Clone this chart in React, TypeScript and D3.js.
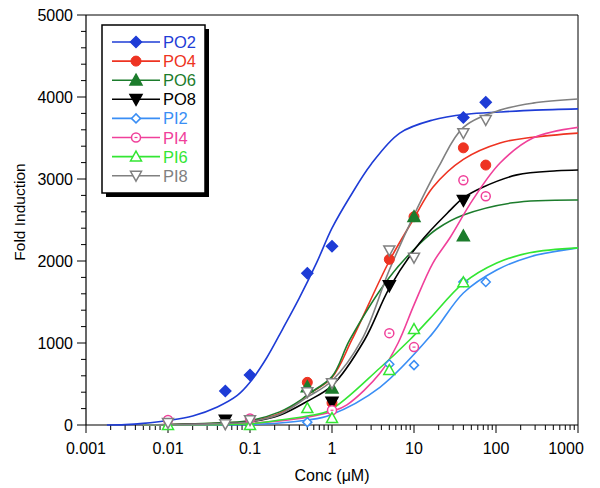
import React from "react";
import * as d3 from "d3";

// ---- data ----
const seriesNames = ["PO2", "PO4", "PO6", "PO8", "PI2", "PI4", "PI6", "PI8"];
const seriesColors = ["#1e3cd6", "#ee3322", "#1c7c2c", "#000000", "#3a8ef5", "#f0409a", "#33e633", "#808080"];
const seriesMarkers = ["diamondF", "circleF", "triUpF", "triDownF", "diamondO", "circleO", "triUpO", "triDownO"];

// measured points [conc, value]
const PO2_pts = [[0.05, 415], [0.1, 610], [0.5, 1850], [1, 2180], [40, 3750], [75, 3935]];
const PO4_pts = [[0.5, 520], [1, 270], [5, 2020], [10, 2540], [40, 3380], [75, 3170]];
const PO6_pts = [[0.5, 465], [1, 450], [10, 2540], [40, 2305]];
const PO8_pts = [[0.05, 60], [1, 280], [5, 1700], [40, 2740]];
const PI2_pts = [[0.5, 35], [5, 740], [10, 730], [40, 1745], [75, 1745]];
const PI4_pts = [[0.01, 60], [0.1, 80], [1, 180], [5, 1120], [10, 950], [40, 2985], [75, 2790]];
const PI6_pts = [[0.01, 0], [0.1, 0], [0.5, 205], [1, 85], [5, 670], [10, 1170], [40, 1740]];
const PI8_pts = [[0.01, 25], [0.05, 10], [0.1, 60], [0.5, 400], [1, 510], [5, 2130], [10, 2040], [40, 3560], [75, 3720]];

// fitted curves, traced [conc, value]
const PO2_fit = [[0.0018, 0], [0.003, 5], [0.005, 20], [0.01, 55], [0.02, 110], [0.04, 220], [0.07, 360], [0.1, 520], [0.16, 820], [0.25, 1170], [0.4, 1550], [0.65, 1980], [1, 2400], [1.65, 2780], [3, 3180], [6.7, 3560], [17, 3720], [44, 3790], [112, 3817], [300, 3840], [1000, 3855]];
const PO4_fit = [[0.005, 0], [0.01, 5], [0.05, 25], [0.1, 45], [0.23, 140], [0.41, 290], [0.5, 365], [1, 580], [1.75, 1040], [5, 2000], [10, 2520], [17, 2900], [40, 3240], [112, 3440], [282, 3510], [1000, 3560]];
const PO6_fit = [[0.005, 0], [0.01, 5], [0.05, 30], [0.1, 55], [0.23, 160], [0.41, 300], [0.5, 370], [1, 590], [1.65, 1040], [5, 1800], [12, 2220], [19, 2390], [40, 2560], [160, 2710], [1000, 2744]];
const PO8_fit = [[0.005, 0], [0.01, 3], [0.05, 20], [0.1, 40], [0.23, 120], [0.5, 290], [1, 480], [2.5, 1040], [5, 1670], [11.7, 2220], [27.7, 2620], [40, 2770], [69, 2900], [180, 3050], [553, 3100], [1000, 3110]];
const PI2_fit = [[0.005, 0], [0.01, 1], [0.1, 8], [0.23, 25], [0.5, 60], [0.94, 120], [3.84, 460], [16, 1090], [40, 1610], [102, 1890], [257, 2050], [1000, 2160]];
const PI4_fit = [[0.005, 0], [0.01, 2], [0.1, 20], [0.23, 50], [0.5, 95], [1, 165], [1.52, 245], [3.84, 630], [6.4, 1000], [10, 1465], [17, 1975], [27.7, 2290], [52, 2745], [112, 3195], [282, 3500], [1000, 3630]];
const PI6_fit = [[0.005, 0], [0.01, 2], [0.1, 15], [0.23, 60], [0.5, 110], [0.94, 180], [3.84, 695], [8.9, 1040], [15.7, 1300], [40, 1730], [102, 1975], [257, 2100], [1000, 2160]];
const PI8_fit = [[0.005, 0], [0.01, 3], [0.05, 20], [0.1, 40], [0.23, 130], [0.5, 340], [1, 540], [2.31, 1040], [5, 1890], [10, 2560], [20, 3150], [40, 3630], [112, 3840], [282, 3925], [1000, 3975]];

const seriesPoints = [PO2_pts, PO4_pts, PO6_pts, PO8_pts, PI2_pts, PI4_pts, PI6_pts, PI8_pts];
const seriesFits = [PO2_fit, PO4_fit, PO6_fit, PO8_fit, PI2_fit, PI4_fit, PI6_fit, PI8_fit];

const xTicks = [0.001, 0.01, 0.1, 1, 10, 100, 1000];
const xTickLabels = ["0.001", "0.01", "0.1", "1", "10", "100", "1000"];
const yTicks = [0, 1000, 2000, 3000, 4000, 5000];

const W = 600, H = 488;
const L = 86, R = 578, T = 15, B = 425;
const font = "Arial, 'Liberation Sans', sans-serif";

function Marker({ type, x, y, color }: { type: string; x: number; y: number; color: string }) {
  const filled = type.endsWith("F");
  const fill = filled ? color : "white";
  const sw = 1.5;
  if (type.startsWith("diamond")) {
    const s = filled ? 5.5 : 4.5;
    return <path d={`M${x},${y - s}L${x + s},${y}L${x},${y + s}L${x - s},${y}Z`} fill={fill} stroke={color} strokeWidth={sw} />;
  }
  if (type.startsWith("circle")) {
    if (filled) return <circle cx={x} cy={y} r={5} fill={color} stroke={color} strokeWidth={1} />;
    return (
      <g>
        <circle cx={x} cy={y} r={4.5} fill="white" stroke={color} strokeWidth={sw} />
        <line x1={x - 1.5} x2={x + 1.5} y1={y} y2={y} stroke={color} strokeWidth={1.2} />
      </g>
    );
  }
  if (type.startsWith("triUp")) {
    const s = filled ? 6 : 5.5;
    return <path d={`M${x},${y - s}L${x + s},${y + s * 0.8}L${x - s},${y + s * 0.8}Z`} fill={fill} stroke={color} strokeWidth={sw} />;
  }
  const s = filled ? 6 : 5.5;
  return <path d={`M${x},${y + s}L${x + s},${y - s * 0.8}L${x - s},${y - s * 0.8}Z`} fill={fill} stroke={color} strokeWidth={sw} />;
}

export default function App() {
  const x = d3.scaleLog().domain([0.001, 1000]).range([L, R]);
  const y = d3.scaleLinear().domain([0, 5000]).range([B, T]);
  const line = d3
    .line<number[]>()
    .x((d) => x(d[0]))
    .y((d) => y(d[1]))
    .curve(d3.curveCatmullRom.alpha(0.5));

  const minorX: number[] = [];
  for (let e = -3; e < 3; e++) for (let m = 2; m <= 9; m++) minorX.push(m * Math.pow(10, e));
  const minorY = d3.range(0, 5001, 200).filter((v) => v % 1000 !== 0);

  const legX = 102, legY = 25, legW = 103, legH = 168;

  return (
    <svg width={W} height={H} style={{ position: "absolute", left: 0, top: 0, background: "white" }} fontFamily={font}>
      <rect x={0} y={0} width={W} height={H} fill="white" />
      {/* frame */}
      <line x1={L} x2={R} y1={T} y2={T} stroke="#000" strokeWidth={1} />
      <line x1={R} x2={R} y1={T} y2={B} stroke="#000" strokeWidth={1} />
      <line x1={L} x2={R} y1={B} y2={B} stroke="#000" strokeWidth={1.2} />
      <line x1={L} x2={L} y1={T} y2={B} stroke="#000" strokeWidth={1.2} />
      {/* y ticks */}
      {yTicks.map((v) => (
        <g key={"y" + v}>
          <line x1={L - 9} x2={L} y1={y(v)} y2={y(v)} stroke="#000" />
          <text x={L - 13} y={y(v) + 5.5} fontSize={16} textAnchor="end" fill="#000">{v}</text>
        </g>
      ))}
      {minorY.map((v) => (
        <line key={"my" + v} x1={L - 5} x2={L} y1={y(v)} y2={y(v)} stroke="#000" />
      ))}
      {/* x ticks */}
      {xTicks.map((v, i) => (
        <g key={"x" + v}>
          <line x1={x(v)} x2={x(v)} y1={B} y2={B + 8} stroke="#000" />
          <text x={i === xTicks.length - 1 ? x(v) - 12 : x(v)} y={B + 29} fontSize={16} textAnchor="middle" fill="#000">{xTickLabels[i]}</text>
        </g>
      ))}
      {minorX.map((v) => (
        <line key={"mx" + v} x1={x(v)} x2={x(v)} y1={B} y2={B + 5} stroke="#000" />
      ))}
      <text x={332} y={481} fontSize={16} textAnchor="middle" fill="#000">Conc (μM)</text>
      <text transform={`translate(25,${(T + B) / 2 - 8}) rotate(-90)`} fontSize={15.5} textAnchor="middle" fill="#000">Fold Induction</text>

      {/* curves */}
      {seriesFits.map((f, i) => (
        <path key={"f" + i} d={line(f as number[][]) || ""} fill="none" stroke={seriesColors[i]} strokeWidth={1.6} />
      ))}
      {/* points */}
      {seriesPoints.map((pts, i) =>
        pts.map((p, j) => <Marker key={`p${i}-${j}`} type={seriesMarkers[i]} x={x(p[0])} y={y(p[1])} color={seriesColors[i]} />)
      )}

      {/* legend */}
      <rect x={legX + 4} y={legY + 4} width={legW} height={legH} fill="#000" />
      <rect x={legX} y={legY} width={legW} height={legH} fill="white" stroke="#000" strokeWidth={1.5} />
      {seriesNames.map((n, i) => {
        const yy = legY + 17 + i * 19.1;
        return (
          <g key={"l" + n}>
            <line x1={legX + 10} x2={legX + 58} y1={yy} y2={yy} stroke={seriesColors[i]} strokeWidth={1.6} />
            <Marker type={seriesMarkers[i]} x={legX + 34} y={yy} color={seriesColors[i]} />
            <text x={legX + 61} y={yy + 6} fontSize={16.5} fill={seriesColors[i]}>{n}</text>
          </g>
        );
      })}
    </svg>
  );
}
